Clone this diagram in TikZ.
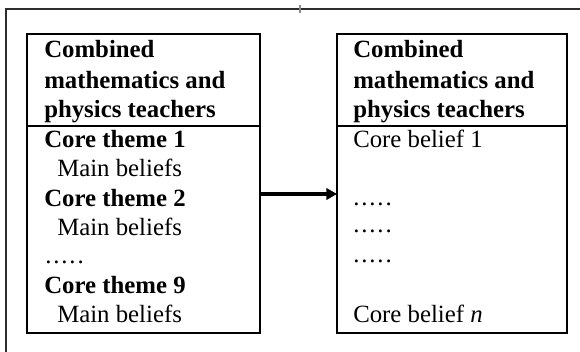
\documentclass[tikz,border=0pt]{standalone}
\usepackage{fontspec}
\setmainfont{Liberation Serif}
\usetikzlibrary{arrows.meta}
\definecolor{framegray}{HTML}{2E2E2E}
\definecolor{tickgray}{HTML}{8A8A8A}
\newcommand{\fivedots}{.\kern1.4pt.\kern1.4pt.\kern1.4pt.\kern1.4pt.}
\tikzset{
  panel/.style={draw=black,line width=1.6pt,minimum height=224.25pt,inner sep=0pt,outer sep=0pt},
  txt/.style={anchor=base west,inner sep=0pt,font=\fontsize{18.6}{22}\selectfont},
  head/.style={txt,font=\fontsize{18.6}{22}\selectfont\bfseries},
}

\begin{document}
\begin{tikzpicture}[x=0.75pt,y=-0.75pt]
  \useasboundingbox (0,0) rectangle (580,352);
  % outer frame, cut by the page edge
  \draw[framegray,line width=1.5pt] (6,360) -- (6,9) -- (590,9);
  \draw[tickgray,line width=0.8pt] (300,5) -- (300,13);
  % the two panels
  \node[panel,minimum width=174.75pt] (lbox) at (143.5,183.5) {};
  \node[panel,minimum width=172.5pt]  (rbox) at (452,183.5) {};
  \coordinate (hline) at (0,126);
  \draw[line width=1.6pt] (lbox.west |- hline) -- (lbox.east |- hline);
  \draw[line width=1.6pt] (rbox.west |- hline) -- (rbox.east |- hline);
  % headers
  \foreach \lbl/\yy in {Combined/58,mathematics and/89,physics teachers/118} {
    \node[head] (lh\yy) at (44,\yy)  {\lbl};
    \node[head] (rh\yy) at (353,\yy) {\lbl};
  }
  % left body
  \node[head] (lt1)   at (44,148) {Core theme 1};
  \node[txt]  (lb1)   at (57,177) {Main beliefs};
  \node[head] (lt2)   at (44,207) {Core theme 2};
  \node[txt]  (lb2)   at (57,235) {Main beliefs};
  \node[txt]  (ldots) at (45,263) {\fivedots};
  \node[head] (lt9)   at (44,293) {Core theme 9};
  \node[txt]  (lb9)   at (57,322) {Main beliefs};
  % right body
  \node[txt] (rc1) at (353,148) {Core belief 1};
  \foreach \yy in {205,233,262}
    \node[txt] (rd\yy) at (353,\yy) {\fivedots};
  \node[txt] (rcn) at (353,322) {Core belief \textit{n}};
  % connector
  \coordinate (arrow) at (0,194);
  \draw[line width=2.4pt,-{Triangle[length=8pt,width=8.5pt]}]
    (lbox.east |- arrow) -- (rbox.west |- arrow);
\end{tikzpicture}
\end{document}
